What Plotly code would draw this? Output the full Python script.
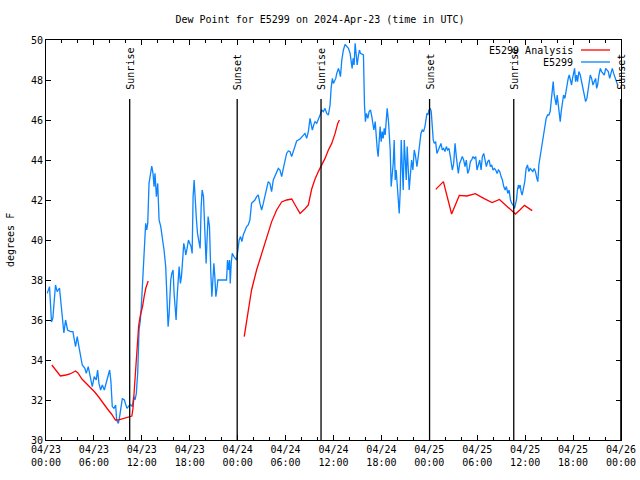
import pandas as pd
import plotly.graph_objects as go

start = pd.Timestamp("2024-04-23 00:00")

# Observed dew point (E5299): hours since 04/23 00:00 UTC, degrees F
obs_hours = [0.15,0.44,0.69,0.86,1.19,1.40,1.69,2.24,2.45,2.70,3.07,3.37,3.70,3.91,4.12,4.33,4.54,4.87,5.04,5.29,5.50,5.79,6.04,6.29,6.46,6.63,6.84,7.05,7.30,7.55,7.80,7.97,8.13,8.30,8.51,8.72,8.85,9.06,9.22,9.39,9.56,9.81,9.97,10.14,10.31,10.48,10.64,10.81,10.98,11.15,11.31,11.48,11.65,11.82,11.98,12.15,12.32,12.48,12.61,12.74,12.90,13.11,13.24,13.40,13.53,13.65,13.82,13.99,14.16,14.37,14.58,14.78,
14.99,15.08,15.16,15.29,15.41,15.50,15.62,15.75,15.91,16.04,16.12,16.21,16.29,16.42,16.54,16.67,16.83,16.96,17.08,17.25,17.42,17.50,17.67,17.84,18.01,18.17,18.30,18.42,18.55,18.67,18.84,18.97,19.13,19.30,19.43,19.55,19.72,19.85,19.97,20.05,20.18,20.30,20.47,20.56,20.64,20.77,20.89,21.02,21.14,21.27,21.39,21.52,22.19,22.61,22.73,22.86,22.98,23.07,23.19,23.32,23.53,23.69,23.86,24.03,24.19,24.36,24.53,24.70,24.91,25.12,25.32,25.53,25.74,25.95,26.16,26.37,26.58,26.79,27.00,27.21,27.42,27.62,27.83,28.04,28.25,28.46,28.67,28.88,29.09,
29.30,29.51,29.72,29.93,30.13,30.34,30.55,30.76,30.97,31.18,31.39,31.81,32.22,32.43,32.64,32.85,33.06,33.19,33.35,33.52,33.69,33.90,34.11,34.32,34.53,34.73,34.94,35.15,35.36,35.57,35.70,35.86,35.99,36.11,36.28,36.41,36.62,36.74,36.87,37.04,37.24,37.45,37.66,37.87,38.08,38.21,38.33,38.46,38.58,38.71,38.83,38.96,39.13,39.25,39.38,39.75,39.88,40.00,40.13,40.30,40.46,40.63,40.80,40.93,41.05,41.22,41.34,41.47,41.59,41.72,41.84,41.97,42.10,42.22,42.35,42.47,42.60,42.72,42.89,43.02,
43.10,43.22,43.35,43.48,43.60,43.73,43.85,43.98,44.10,44.23,44.36,44.48,44.61,44.73,44.86,44.98,45.11,45.23,45.36,45.48,45.61,45.78,45.94,46.11,46.28,46.45,46.61,46.78,46.95,47.11,47.28,47.45,47.57,47.70,47.83,47.95,48.12,48.24,48.37,48.49,48.62,48.79,48.95,49.12,49.29,49.46,49.62,49.79,49.96,50.13,50.29,50.46,50.63,50.75,50.88,51.05,51.22,51.38,51.51,51.63,51.80,51.97,52.13,52.30,52.47,52.63,52.80,52.97,53.14,53.30,53.47,53.64,53.81,53.97,54.14,54.31,54.48,54.64,54.81,54.98,55.14,55.31,55.48,55.65,55.81,55.98,56.15,56.31,56.48,56.65,56.82,56.98,57.15,57.32,57.49,57.65,57.82,57.99,58.16,58.32,58.49,58.66,58.78,58.91,59.03,59.16,
59.20,59.37,59.49,59.62,59.79,59.95,60.12,60.29,60.46,60.62,60.79,60.96,61.13,61.29,61.46,61.59,61.71,61.84,61.96,62.13,62.30,62.47,62.63,62.80,62.97,63.13,63.26,63.38,63.51,63.64,63.76,63.89,64.01,64.14,64.26,64.39,64.51,64.64,64.81,64.97,65.14,65.27,65.39,65.52,65.68,65.81,65.93,66.06,66.19,66.31,66.44,66.56,66.73,66.90,67.06,67.23,67.40,67.57,67.73,67.90,68.03,68.15,68.32,68.49,68.66,68.82,68.95,69.07,69.24,69.41,69.57,69.74,69.91,70.08,70.24,70.41,70.58,70.74,70.91,71.08,71.24,71.41,71.58]

obs_dewpt = [37.33,37.67,35.9,36.1,37.75,37.42,37.6,35.35,36.0,35.5,35.42,35.42,34.67,35.17,34.67,34.17,33.75,33.58,33.33,33.67,33.17,32.67,33.17,33.0,33.5,32.83,32.5,32.75,32.5,32.92,33.33,33.5,32.92,31.67,31.58,31.75,31.0,30.83,31.17,31.58,32.08,32.0,31.83,31.58,31.67,31.75,31.75,31.67,32.17,32.0,32.33,33.33,35.5,36.0,37.0,38.33,39.83,40.83,40.5,40.83,42.83,43.33,43.7,43.33,42.67,43.33,42.17,42.83,41.0,40.67,40.17,39.5,
38.67,37.67,36.33,35.67,36.25,37.33,38.0,38.33,38.5,37.33,37.0,36.5,36.0,37.17,38.17,38.67,37.83,38.17,38.83,39.83,39.5,39.25,39.58,40.0,39.83,39.67,39.33,42.17,43.0,42.0,41.0,40.33,39.83,39.58,41.67,42.5,42.17,41.0,39.67,38.83,40.17,41.17,40.67,39.0,38.33,37.17,38.33,38.83,38.17,37.17,37.5,38.0,38.0,38.0,39.0,38.5,39.0,37.83,38.83,39.33,39.17,39.08,39.0,39.5,40.0,40.17,39.92,40.25,40.5,40.67,40.75,41.0,41.83,41.92,42.0,42.17,42.25,41.83,41.5,41.83,42.25,42.67,42.92,42.83,42.42,43.0,43.17,43.42,43.58,
43.5,43.17,43.58,43.92,44.33,44.45,44.42,44.17,44.42,44.75,44.95,45.05,45.25,45.33,45.08,45.42,46.08,45.83,45.5,45.75,45.92,45.83,46.0,46.25,46.5,46.42,46.58,46.33,46.25,46.75,47.58,48.08,47.83,47.92,48.08,48.33,48.58,48.42,48.17,49.0,49.5,49.78,49.67,49.58,49.33,48.92,48.58,49.08,48.75,49.83,49.42,48.75,49.25,49.5,49.33,49.25,46.75,45.92,46.33,46.08,46.42,46.5,46.17,45.75,45.5,45.92,45.08,44.58,44.17,45.25,45.67,44.92,45.42,45.08,45.58,45.25,46.25,46.58,45.92,45.25,
44.5,42.67,43.17,43.83,45.0,43.0,43.5,42.83,42.33,41.33,42.5,45.0,43.67,42.5,45.0,44.17,43.0,44.67,43.33,42.5,43.17,44.0,43.5,44.5,44.17,43.67,44.17,44.67,45.33,45.5,45.42,45.67,46.0,46.33,46.25,46.5,46.58,46.42,45.67,45.0,44.83,44.92,44.33,44.5,44.67,44.83,44.5,44.58,44.42,44.67,44.5,44.58,44.17,43.83,43.5,43.83,44.83,44.17,43.67,43.33,43.83,44.0,44.17,44.0,43.67,44.0,43.33,43.5,43.92,44.0,44.17,44.08,44.17,43.5,43.83,44.0,43.5,44.17,44.33,44.0,43.67,43.92,44.0,43.67,43.75,43.5,43.58,43.5,43.33,43.5,43.42,43.17,43.0,42.67,42.5,42.67,42.33,42.5,42.0,41.83,41.75,41.58,41.75,42.0,42.5,42.75,
42.58,42.75,42.42,42.25,42.58,42.92,43.58,43.75,43.42,43.58,43.5,43.42,43.58,43.42,43.08,42.92,43.75,44.08,44.42,44.75,45.25,45.75,46.08,46.25,46.25,46.42,46.92,47.42,47.92,47.25,46.92,46.75,47.25,46.75,46.25,45.92,46.42,46.75,47.25,47.08,47.58,47.92,48.08,48.25,47.92,47.75,48.08,48.42,48.58,47.92,48.25,47.92,48.42,48.25,47.92,47.58,47.25,46.92,47.08,47.58,47.92,48.25,48.08,47.75,47.92,48.08,47.58,47.75,48.25,48.58,48.42,48.33,48.25,48.58,48.5,48.42,48.08,48.42,48.58,48.33,48.17,47.92,47.75]

# Analysis dew point (E5299 Analysis): None separates the runs
ana_hours = [0.73,1.2,1.8,2.5,3.0,3.7,4.0,4.5,5.0,5.6,6.1,6.6,7.1,7.7,8.2,8.7,9.0,9.4,10.3,10.75,10.9,11.15,11.35,11.6,11.8,12.1,12.3,12.5,12.8,
             None,
             24.82,25.32,25.74,26.37,27.0,27.63,28.26,28.88,29.51,30.14,30.77,31.27,31.81,32.4,32.85,33.27,33.69,34.1,34.45,34.94,35.36,35.78,36.2,36.53,36.74,
             None,
             48.8,49.76,50.79,51.75,52.7,53.76,54.81,55.86,56.78,57.74,58.37,58.78,59.33,59.91,60.46,60.88]
ana_dewpt = [33.75,33.5,33.2,33.25,33.3,33.45,33.35,33.05,32.85,32.65,32.4,32.15,31.85,31.55,31.3,31.0,31.0,31.05,31.15,31.2,31.6,33.1,34.5,35.7,36.2,36.7,37.2,37.6,37.95,
             None,
             35.17,36.5,37.5,38.5,39.33,40.17,40.92,41.5,41.9,42.0,42.05,41.7,41.33,41.55,41.75,42.55,43.05,43.42,43.67,44.08,44.5,44.83,45.33,45.83,46.0,
             None,
             42.53,42.92,41.3,42.23,42.2,42.32,42.08,41.87,42.03,41.67,41.42,41.3,41.5,41.73,41.58,41.47]

sun_event_hours = [10.48, 23.94, 34.44, 48.03, 58.57, 71.98]
sun_event_names = ["Sunrise", "Sunset", "Sunrise", "Sunset", "Sunrise", "Sunset"]

tick_hours = list(range(0, 73, 6))
tick_labels = ["04/23<br>00:00", "04/23<br>06:00", "04/23<br>12:00", "04/23<br>18:00",
               "04/24<br>00:00", "04/24<br>06:00", "04/24<br>12:00", "04/24<br>18:00",
               "04/25<br>00:00", "04/25<br>06:00", "04/25<br>12:00", "04/25<br>18:00",
               "04/26<br>00:00"]
y_ticks = list(range(30, 51, 2))

def to_time(h):
    return None if h is None else (start + pd.Timedelta(hours=h)).strftime("%Y-%m-%d %H:%M:%S")

FONT = "DejaVu Sans Mono"
BLUE = "#0a84ff"
RED = "#ff0000"

fig = go.Figure()
fig.add_trace(go.Scatter(x=[to_time(h) for h in obs_hours], y=obs_dewpt, mode="lines",
                         line=dict(color=BLUE, width=1.3), name="E5299", showlegend=False))
fig.add_trace(go.Scatter(x=[to_time(h) for h in ana_hours], y=ana_dewpt, mode="lines",
                         line=dict(color=RED, width=1.3), name="E5299 Analysis",
                         connectgaps=False, showlegend=False))

shapes = []
annotations = []
for h, name in zip(sun_event_hours, sun_event_names):
    t = to_time(h)
    shapes.append(dict(type="line", xref="x", yref="y", x0=t, x1=t, y0=30, y1=47.05,
                       line=dict(color="black", width=1.3)))
    annotations.append(dict(x=t, y=47.4, xref="x", yref="y", text=name, textangle=-90,
                            showarrow=False, xanchor="center", yanchor="bottom",
                            font=dict(family=FONT, size=10, color="black")))

# manual legend (text right-aligned, sample line to the right)
L, W, B, H = 46.0, 575.0, 440, 400
def px(x): return (x - L) / W
def py(y): return (B - y) / H
for label, color, ypix in [("E5299 Analysis", RED, 50), ("E5299", BLUE, 62)]:
    annotations.append(dict(x=px(575), y=py(ypix), xref="paper", yref="paper", text=label,
                            showarrow=False, xanchor="right", yanchor="middle",
                            font=dict(family=FONT, size=10, color="black")))
    shapes.append(dict(type="line", xref="paper", yref="paper", x0=px(581), x1=px(610),
                       y0=py(ypix), y1=py(ypix), line=dict(color=color, width=1.3)))

annotations.append(dict(x=px(10), y=0.5, xref="paper", yref="paper", text="degrees F",
                        textangle=-90, showarrow=False, xanchor="center", yanchor="middle",
                        font=dict(family=FONT, size=10, color="black")))

fig.update_layout(
    width=640, height=480,
    margin=dict(l=46, r=19, t=40, b=40, autoexpand=False),
    paper_bgcolor="white", plot_bgcolor="white",
    title=dict(text="Dew Point for E5299 on 2024-Apr-23 (time in UTC)", x=0.5, xanchor="center",
               y=1 - 19 / 480, yanchor="middle", yref="container", automargin=False,
               font=dict(family=FONT, size=10, color="black")),
    font=dict(family=FONT, size=10, color="black"),
    shapes=shapes, annotations=annotations, showlegend=False, hovermode=False,
)
fig.update_xaxes(
    type="date", range=[to_time(0), to_time(72)],
    tickvals=[to_time(h) for h in tick_hours], ticktext=tick_labels,
    ticks="inside", ticklen=5, tickcolor="black", tickwidth=1,
    minor=dict(dtick=2 * 3600 * 1000, tick0=to_time(0), ticks="inside", ticklen=3,
               tickcolor="black", showgrid=False),
    showline=True, linecolor="black", linewidth=1, mirror="allticks",
    showgrid=False, zeroline=False, tickangle=0, automargin=False,
    tickfont=dict(family=FONT, size=10, color="black"),
)
fig.update_yaxes(
    range=[30, 50], tickvals=y_ticks, ticktext=[str(v) for v in y_ticks],
    ticks="inside", ticklen=5, tickcolor="black", tickwidth=1,
    showline=True, linecolor="black", linewidth=1, mirror="allticks",
    showgrid=False, zeroline=False, automargin=False,
    tickfont=dict(family=FONT, size=10, color="black"),
)

fig.write_html("out.html", config={"displayModeBar": False, "staticPlot": True},
               post_script="document.body.style.margin='0';document.body.style.overflow='hidden';")
